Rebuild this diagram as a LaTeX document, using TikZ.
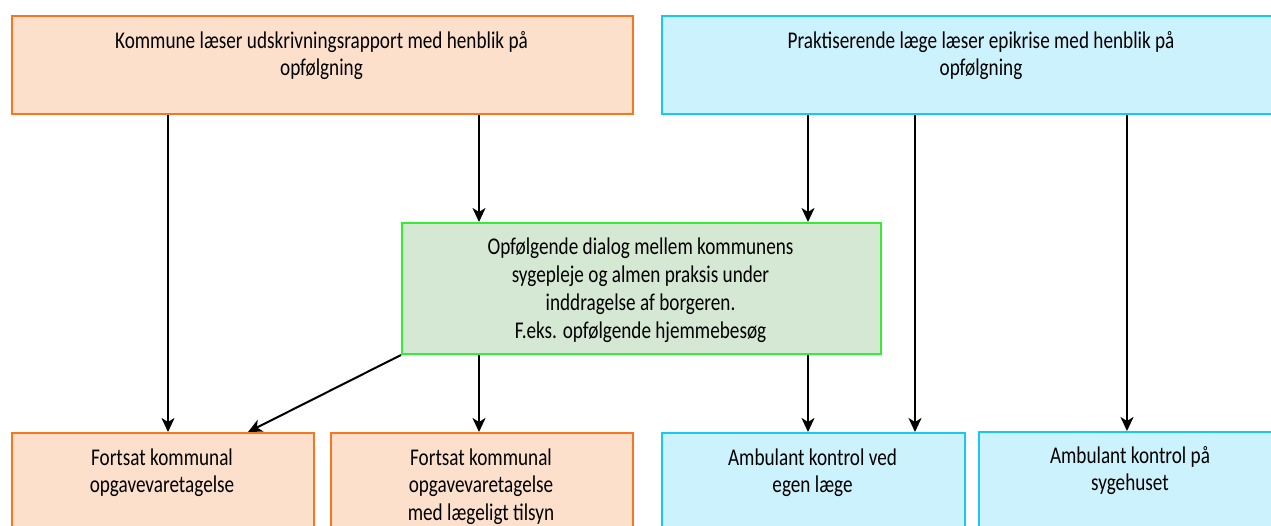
\documentclass[tikz,border=0pt]{standalone}
\usepackage{fontspec}
\setmainfont{Carlito}[FakeStretch=0.80]
\usetikzlibrary{arrows.meta,calc}
\definecolor{oline}{HTML}{F7761F}
\definecolor{ofill}{HTML}{FDE0CC}
\definecolor{cline}{HTML}{18C8F0}
\definecolor{cfill}{HTML}{CCF2FD}
\definecolor{gline}{HTML}{33EE33}
\definecolor{gfill}{HTML}{D5E8D4}
\begin{document}
\begin{tikzpicture}[x=1pt,y=-1pt,
  box/.style={draw, line width=2pt, rectangle, inner sep=0pt, anchor=north west},
  obox/.style={box, draw=oline, fill=ofill},
  cbox/.style={box, draw=cline, fill=cfill},
  gbox/.style={box, draw=gline, fill=gfill},
  txt/.style={align=center, inner sep=0pt, anchor=base, font=\fontsize{24}{27.7}\selectfont},
  arr/.style={line width=2pt, -{Stealth[length=14pt,width=13pt,inset=4pt]}}]
\useasboundingbox (0,0) rectangle (1271,525);
\begin{scope}
\clip (0,0) rectangle (1271,525);
\node[obox, minimum width=621pt, minimum height=98pt] (k) at (11,15) {};
\node[cbox, minimum width=640pt, minimum height=98pt] (p) at (661,15) {};
\node[gbox, minimum width=479pt, minimum height=131pt] (g) at (401,222) {};
\node[obox, minimum width=302pt, minimum height=120pt] (b1) at (11,432) {};
\node[obox, minimum width=302pt, minimum height=120pt] (b2) at (330,432) {};
\node[cbox, minimum width=303pt, minimum height=120pt] (b3) at (661,432) {};
\node[cbox, minimum width=320pt, minimum height=120pt] (b4) at (978,431) {};

\node[txt] (kt) at (321.5,75.7) {Kommune læser udskrivningsrapport med henblik på\\opfølgning};
\node[txt] (pt) at (981,75.7) {Praktiserende læge læser epikrise med henblik på\\opfølgning};
\node[txt] (gt) at (640.5,338) {Opfølgende dialog mellem kommunens\\sygepleje og almen praksis under\\inddragelse af borgeren.\\F.eks. opfølgende hjemmebesøg};
\node[txt] (b1t) at (162,492.7) {Fortsat kommunal\\opgavevaretagelse};
\node[txt] (b2t) at (481,520.4) {Fortsat kommunal\\opgavevaretagelse\\med lægeligt tilsyn};
\node[txt] (b3t) at (812.5,492.7) {Ambulant kontrol ved\\egen læge};
\node[txt] (b4t) at (1130,490.7) {Ambulant kontrol på\\sygehuset};
\end{scope}

\draw[arr] (k.south -| 168,0) -- (b1.north -| 168,0);
\draw[arr] (k.south -| 479,0) -- (g.north -| 479,0);
\draw[arr] (p.south -| 808,0) -- (g.north -| 808,0);
\draw[arr] (p.south -| 915,0) -- (b3.north -| 915,0);
\draw[arr] (p.south -| 1127,0) -- (b4.north -| 1127,0);
\draw[arr] (g.south -| 479,0) -- (b2.north -| 479,0);
\draw[arr] (g.south -| 808,0) -- (b3.north -| 808,0);
\draw[arr] (g.south west) -- (b1.north -| 248,0);
\end{tikzpicture}
\end{document}
